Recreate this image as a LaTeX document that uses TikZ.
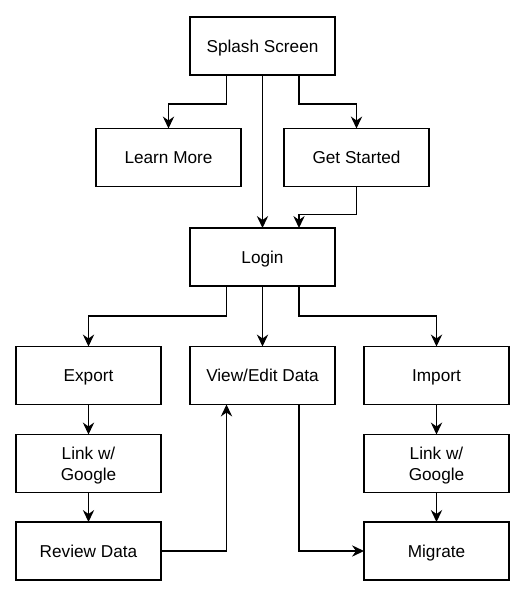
\documentclass[tikz,border=0pt]{standalone}
\usepackage{fontspec}
\setmainfont{Liberation Sans}
\usetikzlibrary{arrows.meta,calc}
\begin{document}
\begin{tikzpicture}[x=0.75pt,y=-0.75pt,
  box/.style={draw=black,line width=1pt,fill=white,minimum width=108.75pt,minimum height=43.5pt,inner sep=0pt,outer sep=0pt,align=center,font=\fontsize{12.9pt}{15.6pt}\selectfont},
  one/.style={box,text height=9.3pt,text depth=0pt},
  two/.style={box,text height=24.9pt,text depth=-0.3pt},
  arr/.style={draw=black,line width=1pt,-{Stealth[length=9pt,width=8.5pt,inset=3pt]}}]
\useasboundingbox (0,0) rectangle (529,598);
\fill[white] (0,0) rectangle (529,598);
\node[one] (splash) at (262.5,46) {Splash Screen};
\node[one] (learn) at (168.5,157.5) {Learn More};
\node[one] (get) at (356.5,157.5) {Get Started};
\node[one] (login) at (262.5,257) {Login};
\node[one] (export) at (88.5,375.5) {Export};
\node[one] (view) at (262.5,375.5) {View/Edit Data};
\node[one] (import) at (436.5,375.5) {Import};
\node[two] (linkL) at (88.5,463.5) {Link w/\\Google};
\node[two] (linkR) at (436.5,463.5) {Link w/\\Google};
\node[one] (review) at (88.5,551) {Review Data};
\node[one] (migrate) at (436.5,551) {Migrate};
\draw[arr] ($(splash.south)+(-36,0)$) -- ++(0,29) -| (learn.north);
\draw[arr] ($(splash.south)+(36.5,0)$) -- ++(0,29) -| (get.north);
\draw[arr] (splash.south) -- (login.north);
\draw[arr] (get.south) -- ++(0,28) -| ($(login.north)+(36.5,0)$);
\draw[arr] ($(login.south)+(-36,0)$) -- ++(0,30) -| (export.north);
\draw[arr] (login.south) -- (view.north);
\draw[arr] ($(login.south)+(36.5,0)$) -- ++(0,30) -| (import.north);
\draw[arr] (export.south) -- (linkL.north);
\draw[arr] (linkL.south) -- (review.north);
\draw[arr] (import.south) -- (linkR.north);
\draw[arr] (linkR.south) -- (migrate.north);
\draw[arr] (review.east) -| ($(view.south)+(-36,0)$);
\draw[arr] ($(view.south)+(36.5,0)$) |- (migrate.west);
\end{tikzpicture}
\end{document}
